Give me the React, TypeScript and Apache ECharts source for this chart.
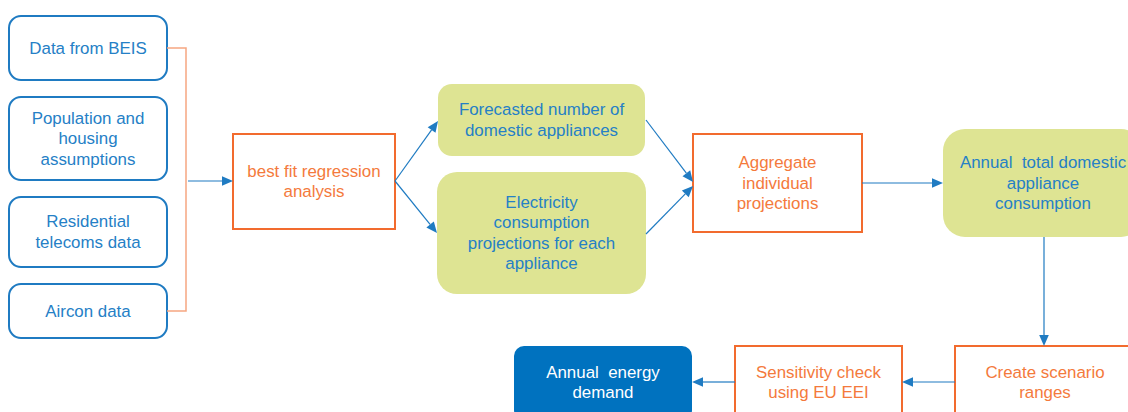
import React, { useEffect, useRef } from "react";
import * as echarts from "echarts";

// Node labels (text content)
const inputLabels: string[][] = [
  ["Data from BEIS"],
  ["Population and", "housing", "assumptions"],
  ["Residential", "telecoms data"],
  ["Aircon data"],
];
const processLabels: string[][] = [
  ["best fit regression", "analysis"],
  ["Aggregate", "individual", "projections"],
  ["Sensitivity check", "using EU EEI"],
  ["Create scenario", "ranges"],
];
const resultLabels: string[][] = [
  ["Forecasted number of", "domestic appliances"],
  ["Electricity", "consumption", "projections for each", "appliance"],
  ["Annual  total domestic", "appliance", "consumption"],
];
const finalLabel: string[] = ["Annual  energy", "demand"];

// Layout (x, y, w, h, radius)
const inputBoxes = [
  [9, 16, 158, 64, 12],
  [9, 97, 158, 83, 12],
  [9, 197, 158, 70, 12],
  [9, 284, 158, 54, 12],
];
const processBoxes = [
  [233, 134, 162, 95],
  [693, 134, 169, 98],
  [735, 346, 167, 74],
  [955, 346, 180, 74],
];
const resultBoxes = [
  [438, 84, 207, 72, 14],
  [437, 172, 209, 122, 20],
  [943, 129, 200, 108, 22],
];
const finalBox = [514, 346, 178, 74, 10];

const arrows: number[][] = [
  [188, 181, 233, 181],
  [395, 181, 438, 121],
  [395, 181, 437, 233],
  [646, 120, 693, 182],
  [646, 234, 693, 186],
  [862, 183, 943, 183],
  [1044, 237, 1044, 346],
  [955, 382, 902, 382],
  [735, 382, 692, 382],
];

const BLUE = "#1f7bc2";
const TEXT_BLUE = "#2580c6";
const ORANGE = "#f26b2e";
const ORANGE_TEXT = "#f47a3c";
const GREEN = "#dee493";
const DARK = "#0072bf";
const CONNECT = "#f6a681";
const FONT = "'Liberation Sans', Arial, sans-serif";

function textEl(lines: string[], cx: number, cy: number, fill: string) {
  return {
    type: "text",
    z: 10,
    style: {
      text: lines.join("\n"),
      x: cx,
      y: cy,
      align: "center",
      verticalAlign: "middle",
      fontSize: 16.9,
      lineHeight: 20.5,
      fontFamily: FONT,
      fill,
    },
  };
}

function arrowEls(a: number[]) {
  const [x1, y1, x2, y2] = a;
  const dx = x2 - x1;
  const dy = y2 - y1;
  const len = Math.sqrt(dx * dx + dy * dy);
  const ux = dx / len;
  const uy = dy / len;
  const L = 11;
  const W = 4.8;
  const bx = x2 - ux * L;
  const by = y2 - uy * L;
  return [
    {
      type: "line",
      z: 5,
      shape: { x1, y1, x2: bx, y2: by },
      style: { stroke: BLUE, lineWidth: 1.2 },
    },
    {
      type: "polygon",
      z: 6,
      shape: {
        points: [
          [x2, y2],
          [bx - uy * W, by + ux * W],
          [bx + uy * W, by - ux * W],
        ],
      },
      style: { fill: BLUE },
    },
  ];
}

export default function App() {
  const ref = useRef<HTMLDivElement>(null);
  useEffect(() => {
    document.body.style.margin = "0";
    if (!ref.current) return;
    const chart = echarts.init(ref.current, null, { renderer: "svg" });
    const elements: any[] = [];

    inputBoxes.forEach((b, i) => {
      const [x, y, w, h, r] = b;
      elements.push({
        type: "rect",
        shape: { x, y, width: w, height: h, r },
        style: { fill: "#fff", stroke: BLUE, lineWidth: 2 },
      });
      elements.push(textEl(inputLabels[i], x + w / 2, y + h / 2, TEXT_BLUE));
    });

    // bracket connector
    elements.push({
      type: "polyline",
      shape: { points: [[167, 48], [186, 48], [186, 311], [167, 311]] },
      style: { stroke: CONNECT, lineWidth: 1.5, fill: null },
    });

    processBoxes.forEach((b, i) => {
      const [x, y, w, h] = b;
      elements.push({
        type: "rect",
        shape: { x, y, width: w, height: h },
        style: { fill: "#fff", stroke: ORANGE, lineWidth: 2 },
      });
      const cy = i >= 2 ? 382.5 : y + h / 2;
      const cx = i === 3 ? 1045 : x + w / 2;
      elements.push(textEl(processLabels[i], cx, cy, ORANGE_TEXT));
    });

    resultBoxes.forEach((b, i) => {
      const [x, y, w, h, r] = b;
      elements.push({
        type: "rect",
        shape: { x, y, width: w, height: h, r },
        style: { fill: GREEN },
      });
      elements.push(textEl(resultLabels[i], x + w / 2, y + h / 2, TEXT_BLUE));
    });

    {
      const [x, y, w, h, r] = finalBox;
      elements.push({
        type: "rect",
        shape: { x, y, width: w, height: h, r },
        style: { fill: DARK },
      });
      elements.push(textEl(finalLabel, x + w / 2, 382.5, "#ffffff"));
    }

    arrows.forEach((a) => elements.push(...arrowEls(a)));

    chart.setOption({
      animation: false,
      backgroundColor: "#ffffff",
      graphic: { elements },
    });
    return () => chart.dispose();
  }, []);
  return <div ref={ref} style={{ width: 1128, height: 412 }} />;
}
